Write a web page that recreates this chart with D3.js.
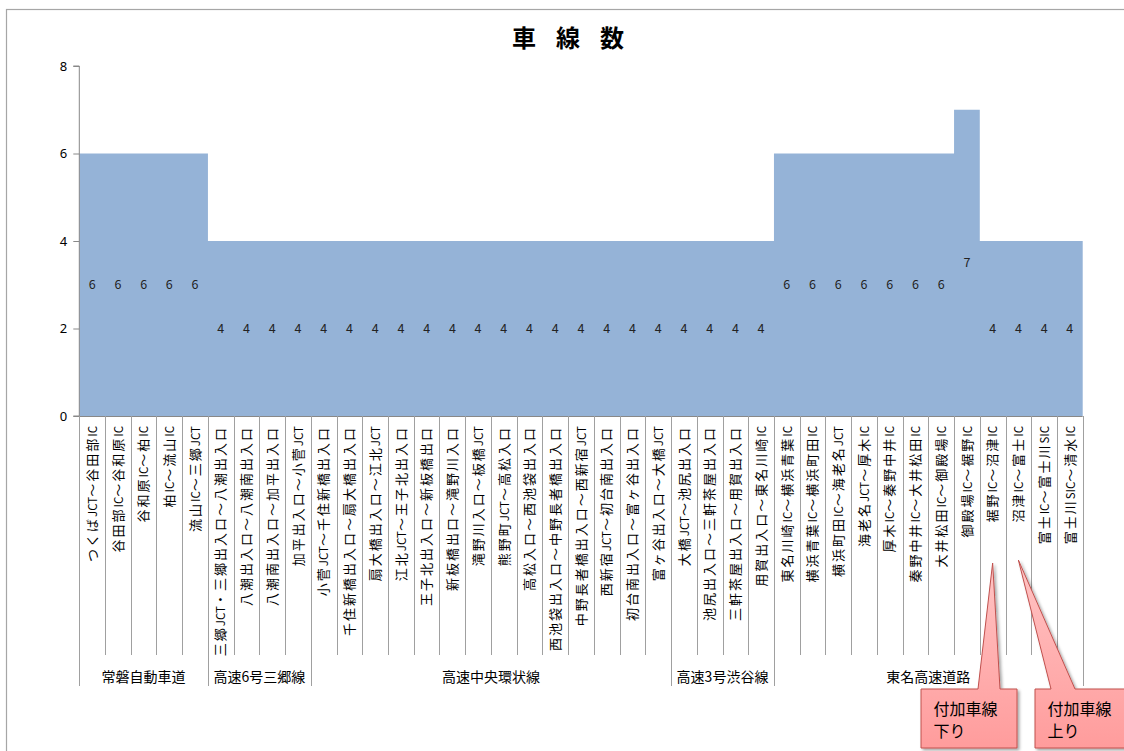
<!DOCTYPE html>
<html>
<head>
<meta charset="utf-8">
<script src="https://cdn.jsdelivr.net/npm/d3@7"></script>
<style>
  html, body { margin: 0; padding: 0; background: #fff; }
  svg { display: block; font-family: "Noto Sans CJK JP", "Noto Sans", sans-serif; }
</style>
</head>
<body>
<svg id="chart" width="1124" height="751"></svg>
<script>
// 区間名
const sections = [
  "つくばJCT～谷田部IC", "谷田部IC～谷和原IC", "谷和原IC～柏IC", "柏IC～流山IC", "流山IC～三郷JCT",
  "三郷JCT・三郷出入口～八潮出入口", "八潮出入口～八潮南出入口", "八潮南出入口～加平出入口", "加平出入口～小菅JCT",
  "小菅JCT～千住新橋出入口", "千住新橋出入口～扇大橋出入口", "扇大橋出入口～江北JCT", "江北JCT～王子北出入口",
  "王子北出入口～新板橋出口", "新板橋出口～滝野川入口", "滝野川入口～板橋JCT", "熊野町JCT～高松入口",
  "高松入口～西池袋出入口", "西池袋出入口～中野長者橋出入口", "中野長者橋出入口～西新宿JCT",
  "西新宿JCT～初台南出入口", "初台南出入口～富ヶ谷出入口", "富ヶ谷出入口～大橋JCT",
  "大橋JCT～池尻出入口", "池尻出入口～三軒茶屋出入口", "三軒茶屋出入口～用賀出入口", "用賀出入口～東名川崎IC",
  "東名川崎IC～横浜青葉IC", "横浜青葉IC～横浜町田IC", "横浜町田IC～海老名JCT", "海老名JCT～厚木IC",
  "厚木IC～秦野中井IC", "秦野中井IC～大井松田IC", "大井松田IC～御殿場IC", "御殿場IC～裾野IC",
  "裾野IC～沼津IC", "沼津IC～富士IC", "富士IC～富士川SIC", "富士川SIC～清水IC"
];

// 車線数
const lanes = [
  6, 6, 6, 6, 6,
  4, 4, 4, 4,
  4, 4, 4, 4, 4, 4, 4, 4, 4, 4, 4, 4, 4, 4,
  4, 4, 4, 4,
  6, 6, 6, 6, 6, 6, 6, 7, 4, 4, 4, 4
];

// 路線名と区間数
const routes = ["常磐自動車道", "高速6号三郷線", "高速中央環状線", "高速3号渋谷線", "東名高速道路"];
const routeCounts = [5, 4, 14, 4, 12];

const yTicks = [0, 2, 4, 6, 8];

// 付加車線の吹き出し（指す区間と文言）
const callouts = [
  { section: "裾野IC～沼津IC", lines: ["付加車線", "下り"] },
  { section: "沼津IC～富士IC", lines: ["付加車線", "上り"] }
];

(function () {
  const svg = d3.select("#chart");

  const pL = 79.3, pR = 1082.7, pT = 66, pB = 416;
  const x = d3.scaleBand().domain(sections).range([pL, pR]).padding(0);
  const y = d3.scaleLinear().domain([0, 8]).range([pB, pT]);

  // 外枠
  svg.append("rect")
    .attr("x", 6.5).attr("y", 9.5).attr("width", 1140).attr("height", 760)
    .attr("fill", "none").attr("stroke", "#a6a6a6").attr("stroke-width", 1.2);

  // タイトル
  svg.append("text")
    .attr("x", 512).attr("y", 47)
    .attr("font-size", 24).attr("font-weight", "bold")
    .attr("letter-spacing", "20px")
    .attr("fill", "#000")
    .text("車線数");

  // 階段状の面
  const pts = sections.map((s, i) => [x(s), lanes[i]]);
  pts.push([pR, lanes[lanes.length - 1]]);
  const area = d3.area()
    .x(d => d[0])
    .y0(y(0))
    .y1(d => y(d[1]))
    .curve(d3.curveStepAfter);
  svg.append("path")
    .datum(pts)
    .attr("d", area)
    .attr("fill", "#95b3d7");

  // 値ラベル
  svg.append("g")
    .selectAll("text")
    .data(sections)
    .join("text")
    .attr("x", s => x(s) + x.bandwidth() / 2)
    .attr("y", (s, i) => y(lanes[i] / 2))
    .attr("dy", "0.35em")
    .attr("text-anchor", "middle")
    .attr("font-size", 12.5)
    .attr("fill", "#222")
    .text((s, i) => lanes[i]);

  // 縦軸
  const yAxis = svg.append("g")
    .attr("transform", `translate(${pL},0)`)
    .call(d3.axisLeft(y).tickValues(yTicks).tickSize(6).tickPadding(6));
  yAxis.select(".domain").attr("stroke", "#888").attr("d", `M-6,${pT}H0V${pB}H-6`);
  yAxis.selectAll(".tick line").attr("stroke", "#888");
  yAxis.selectAll(".tick text").attr("font-size", 13).attr("fill", "#000")
    .attr("font-family", "'Noto Sans', sans-serif");

  // 横軸の線
  svg.append("line")
    .attr("x1", pL).attr("x2", pR).attr("y1", pB + 0.5).attr("y2", pB + 0.5)
    .attr("stroke", "#888");

  // 区間の区切り線
  const bounds = [];
  let acc = 0;
  const groupEdges = new Set([0]);
  routeCounts.forEach(c => { acc += c; groupEdges.add(acc); });
  for (let i = 0; i <= sections.length; i++) {
    const xb = i < sections.length ? x(sections[i]) : pR;
    bounds.push({ x: xb, group: groupEdges.has(i) });
  }
  svg.append("g")
    .selectAll("line")
    .data(bounds)
    .join("line")
    .attr("x1", d => Math.round(d.x) + 0.5).attr("x2", d => Math.round(d.x) + 0.5)
    .attr("y1", pB).attr("y2", d => d.group ? 686 : 655)
    .attr("stroke", "#a0a0a0");

  // 区間名（縦書き）：英字部分は詰め、和文部分は字間を広げる
  const splitRuns = s => s.match(/[A-Za-z0-9]+|[^A-Za-z0-9]+/g);
  const labels = svg.append("g")
    .selectAll("text")
    .data(sections)
    .join("text")
    .attr("transform", s => `translate(${x(s) + x.bandwidth() / 2},426) rotate(-90)`)
    .attr("text-anchor", "end")
    .attr("dy", "0.36em")
    .attr("font-size", 13)
    .attr("fill", "#000");
  labels.selectAll("tspan")
    .data(s => splitRuns(s))
    .join("tspan")
    .attr("font-size", t => /[A-Za-z0-9]/.test(t) ? 11.5 : 13)
    .attr("letter-spacing", t => /[A-Za-z0-9]/.test(t) ? "0px" : "2px")
    .text(t => t);

  // 路線名
  let start = 0;
  const routeData = routes.map((r, i) => {
    const a = x(sections[start]);
    const endIdx = start + routeCounts[i];
    const b = endIdx < sections.length ? x(sections[endIdx]) : pR;
    start = endIdx;
    return { name: r, cx: (a + b) / 2 };
  });
  svg.append("g")
    .selectAll("text")
    .data(routeData)
    .join("text")
    .attr("x", d => d.cx).attr("y", 682)
    .attr("text-anchor", "middle")
    .attr("font-size", 14)
    .attr("fill", "#000")
    .text(d => d.name);

  // 吹き出し
  const defs = svg.append("defs");
  const grad = defs.append("linearGradient").attr("id", "pink").attr("x1", 0).attr("y1", 0).attr("x2", 0).attr("y2", 1);
  grad.append("stop").attr("offset", "0%").attr("stop-color", "#ffc4c4");
  grad.append("stop").attr("offset", "100%").attr("stop-color", "#ff9c9c");
  const shadow = defs.append("filter").attr("id", "shadow").attr("x", "-10%").attr("y", "-10%").attr("width", "130%").attr("height", "130%");
  shadow.append("feDropShadow").attr("dx", 2).attr("dy", 2).attr("stdDeviation", 1.5).attr("flood-color", "#000").attr("flood-opacity", 0.35);

  const boxes = [
    { bx: 921, bw: 96, b1: 978, b2: 1000, tipY: 563 },
    { bx: 1035, bw: 110, b1: 1051, b2: 1075, tipY: 560 }
  ];
  const boxTop = 689, boxH = 59;
  callouts.forEach((c, i) => {
    const bx = boxes[i];
    const tipX = x(c.section) + x.bandwidth() / 2;
    const p = d3.path();
    p.moveTo(bx.bx, boxTop);
    p.lineTo(bx.b1, boxTop);
    p.lineTo(tipX, bx.tipY);
    p.lineTo(bx.b2, boxTop);
    p.lineTo(bx.bx + bx.bw, boxTop);
    p.lineTo(bx.bx + bx.bw, boxTop + boxH);
    p.lineTo(bx.bx, boxTop + boxH);
    p.closePath();
    svg.append("path")
      .attr("d", p.toString())
      .attr("fill", "url(#pink)")
      .attr("stroke", "#c0504d")
      .attr("stroke-width", 1)
      .attr("filter", "url(#shadow)");
    c.lines.forEach((t, j) => {
      svg.append("text")
        .attr("x", bx.bx + 12.5).attr("y", boxTop + 26 + j * 22)
        .attr("font-size", 16)
        .attr("fill", "#000")
        .text(t);
    });
  });
})();
</script>
</body>
</html>
